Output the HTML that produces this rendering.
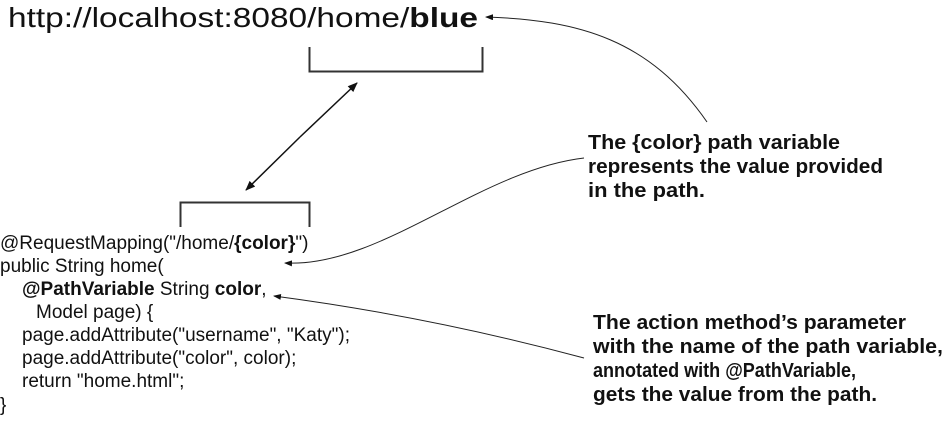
<!DOCTYPE html>
<html><head><meta charset="utf-8"><style>
html,body{margin:0;padding:0;background:#fff}
svg{display:block}
.c{font-family:"Liberation Sans",sans-serif;font-size:19px;fill:#111}
.r{font-family:"Liberation Sans",sans-serif;font-size:20px;font-weight:bold;fill:#111}
</style></head><body>
<svg width="948" height="422" viewBox="0 0 948 422" xmlns="http://www.w3.org/2000/svg">
<defs>
<marker id="a" markerWidth="10" markerHeight="8" refX="9" refY="4" orient="auto" markerUnits="userSpaceOnUse"><path d="M0,0 L10,4 L0,8 z" fill="#111"/></marker>
<marker id="s" markerWidth="8" markerHeight="6" refX="7" refY="3" orient="auto" markerUnits="userSpaceOnUse"><path d="M0,0 L8,3 L0,6 z" fill="#111"/></marker>
</defs>
<text x="8" y="27" style="font-family:'Liberation Sans',sans-serif;font-size:28px;fill:#111" textLength="470" lengthAdjust="spacingAndGlyphs">http://localhost:8080/home/<tspan font-weight="bold">blue</tspan></text>
<path d="M309.5,47 V71.5 H482.5 V47" fill="none" stroke="#333" stroke-width="2"/>
<path d="M180.5,227 V202.5 H309.5 V227" fill="none" stroke="#333" stroke-width="2"/>
<line x1="300" y1="137" x2="357" y2="83" stroke="#111" stroke-width="1.5" marker-end="url(#a)"/>
<line x1="300" y1="137" x2="246" y2="190" stroke="#111" stroke-width="1.5" marker-end="url(#a)"/>
<path d="M707,122 C650,40 580,20 486,17" fill="none" stroke="#222" stroke-width="1" marker-end="url(#s)"/>
<path d="M584,158 C480,170 380,268 285,263" fill="none" stroke="#222" stroke-width="1" marker-end="url(#s)"/>
<path d="M584,358 C480,330 380,310 274,296" fill="none" stroke="#222" stroke-width="1" marker-end="url(#s)"/>
<g class="c">
<text x="0" y="249">@RequestMapping("/home/<tspan font-weight="bold">{color}</tspan>")</text>
<text x="0" y="272">public String home(</text>
<text x="22" y="295"><tspan font-weight="bold">@PathVariable</tspan> String <tspan font-weight="bold">color</tspan>,</text>
<text x="36" y="318">Model page) {</text>
<text x="22" y="341">page.addAttribute("username", "Katy");</text>
<text x="22" y="364">page.addAttribute("color", color);</text>
<text x="22" y="387">return "home.html";</text>
<text x="0" y="411">}</text>
</g>
<g class="r">
<text x="588" y="149" textLength="252" lengthAdjust="spacingAndGlyphs">The {color} path variable</text>
<text x="588" y="173" textLength="295" lengthAdjust="spacingAndGlyphs">represents the value provided</text>
<text x="588" y="197" textLength="117" lengthAdjust="spacingAndGlyphs">in the path.</text>
<text x="593" y="329" textLength="313" lengthAdjust="spacingAndGlyphs">The action method’s parameter</text>
<text x="593" y="353" textLength="350" lengthAdjust="spacingAndGlyphs">with the name of the path variable,</text>
<text x="593" y="377" textLength="263" lengthAdjust="spacingAndGlyphs">annotated with @PathVariable,</text>
<text x="593" y="401" textLength="284" lengthAdjust="spacingAndGlyphs">gets the value from the path.</text>
</g>
</svg>
</body></html>
